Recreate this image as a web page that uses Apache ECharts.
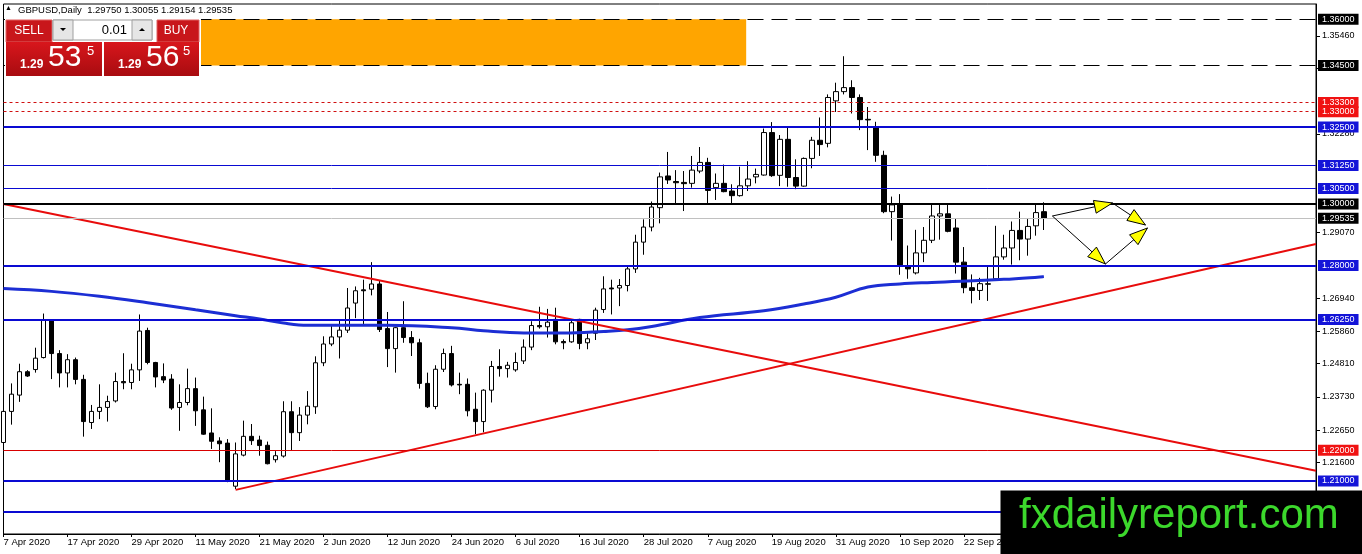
<!DOCTYPE html>
<html><head><meta charset="utf-8">
<script src="https://cdn.jsdelivr.net/npm/echarts/dist/echarts.min.js"></script>
<style>html,body{margin:0;padding:0;background:#fff}#c{width:1362px;height:554px}</style>
</head><body><div id="c"></div>
<script>
// ---------- data ----------
const symbolTitle = 'GBPUSD,Daily';
const headerOHLC = ['1.29750', '1.30055', '1.29154', '1.29535'];
const bidParts = ['1.29', '53', '5'];
const askParts = ['1.29', '56', '5'];
const lotSize = '0.01';

const dateTicks = ['7 Apr 2020','17 Apr 2020','29 Apr 2020','11 May 2020','21 May 2020','2 Jun 2020','12 Jun 2020','24 Jun 2020','6 Jul 2020','16 Jul 2020','28 Jul 2020','7 Aug 2020','19 Aug 2020','31 Aug 2020','10 Sep 2020','22 Sep 2020','2 Oct 2020','14 Oct 2020','26 Oct 2020','5 Nov 2020','17 Nov 2020'];

const yTicks = [1.35460, 1.34410, 1.32280, 1.29070, 1.26940, 1.25860, 1.24810, 1.23730, 1.22650, 1.21600];

const opens = [1.2225,1.2326,1.2379,1.2455,1.2462,1.2501,1.2620,1.2514,1.2451,1.2494,
1.2430,1.2290,1.2326,1.2339,1.2360,1.2423,1.2420,1.2461,1.2589,1.2485,
1.2439,1.2431,1.2339,1.2355,1.2400,1.2331,1.2256,1.2230,1.2223,1.2083,
1.2184,1.2245,1.2233,1.2216,1.2169,1.2181,1.2325,1.2257,1.2314,1.2341,
1.2484,1.2545,1.2568,1.2590,1.2678,1.2721,1.2723,1.2740,1.2595,1.2530,
1.2598,1.2566,1.2549,1.2417,1.2342,1.2463,1.2514,1.2414,1.2414,1.2333,
1.2293,1.2395,1.2472,1.2465,1.2461,1.2490,1.2535,1.2605,1.2601,1.2625,
1.2553,1.2552,1.2625,1.2549,1.2580,1.2657,1.2727,1.2727,1.2735,1.2789,
1.2876,1.2925,1.2988,1.3091,1.3073,1.3070,1.3067,1.3107,1.3135,1.3053,
1.3067,1.3042,1.3027,1.3059,1.3088,1.3094,1.3232,1.3093,1.3210,1.3086,
1.3058,1.3148,1.3207,1.3197,1.3335,1.3365,1.3378,1.3346,1.3275,1.3248,
1.3158,1.2975,1.3000,1.2798,1.2776,1.2841,1.2882,1.2961,1.2968,1.2922,
1.2811,1.2728,1.2719,1.2739,1.2757,1.2828,1.2857,1.2914,1.2886,1.2929,
1.29750];
const highs = [1.2382,1.2417,1.2481,1.2460,1.2533,1.2644,1.2625,1.2525,1.2512,1.2501,
1.2445,1.2347,1.2414,1.2377,1.2452,1.2515,1.2481,1.2641,1.2598,1.2487,
1.2482,1.2447,1.2414,1.2465,1.2436,1.2374,1.2336,1.2242,1.2236,1.2225,
1.2296,1.2285,1.2247,1.2228,1.2197,1.2359,1.2359,1.2340,1.2392,1.2505,
1.2570,1.2608,1.2621,1.2727,1.2732,1.2754,1.2811,1.2750,1.2649,1.2600,
1.2684,1.2587,1.2562,1.2452,1.2476,1.2530,1.2539,1.2452,1.2433,1.2387,
1.2398,1.2490,1.2528,1.2487,1.2517,1.2560,1.2619,1.2666,1.2659,1.2663,
1.2560,1.2625,1.2627,1.2580,1.2663,1.2765,1.2754,1.2756,1.2799,1.2900,
1.2950,1.3008,1.3102,1.3169,1.3110,1.3107,1.3156,1.3185,1.3150,1.3099,
1.3128,1.3064,1.3121,1.3139,1.3115,1.3245,1.3266,1.3224,1.3248,1.3145,
1.3151,1.3218,1.3281,1.3356,1.3394,1.3480,1.3402,1.3356,1.3315,1.3267,
1.3173,1.3024,1.3032,1.2865,1.2916,1.2925,1.3000,1.3000,1.3000,1.2954,
1.2860,1.2771,1.2760,1.2798,1.2929,1.2900,1.2943,1.2975,1.2951,1.2997,
1.30055];
const lows = [1.2166,1.2283,1.2357,1.2438,1.2452,1.2498,1.2431,1.2404,1.2404,1.2414,
1.2244,1.2269,1.2301,1.2293,1.2355,1.2398,1.2398,1.2425,1.2479,1.2404,
1.2418,1.2331,1.2263,1.2346,1.2279,1.2250,1.2204,1.2161,1.2096,1.2074,
1.2180,1.2217,1.2182,1.2154,1.2160,1.2176,1.2200,1.2230,1.2284,1.2318,
1.2473,1.2538,1.2498,1.2581,1.2629,1.2608,1.2703,1.2584,1.2470,1.2452,
1.2549,1.2506,1.2400,1.2337,1.2333,1.2454,1.2407,1.2382,1.2310,1.2252,
1.2258,1.2355,1.2439,1.2436,1.2455,1.2480,1.2525,1.2595,1.2566,1.2544,
1.2528,1.2549,1.2528,1.2528,1.2558,1.2646,1.2641,1.2668,1.2716,1.2776,
1.2835,1.2911,1.2937,1.3065,1.3002,1.2977,1.3053,1.3100,1.3002,1.3013,
1.3038,1.3002,1.3024,1.3042,1.3067,1.3092,1.3088,1.3058,1.3056,1.3048,
1.3056,1.3116,1.3156,1.3184,1.3299,1.3356,1.3294,1.3240,1.3175,1.3137,
1.2970,1.2881,1.2770,1.2757,1.2771,1.2811,1.2873,1.2884,1.2908,1.2774,
1.2710,1.2677,1.2688,1.2685,1.2753,1.2819,1.2803,1.2817,1.2832,1.2897,
1.29154];
const closes = [1.2326,1.2382,1.2455,1.2441,1.2499,1.2623,1.2514,1.2451,1.2494,1.2430,
1.2293,1.2326,1.2339,1.2358,1.2423,1.2419,1.2461,1.2587,1.2485,1.2438,
1.2428,1.2337,1.2355,1.2400,1.2328,1.2252,1.2229,1.2221,1.2101,1.2188,
1.2245,1.2231,1.2215,1.2156,1.2182,1.2325,1.2257,1.2314,1.2343,1.2484,
1.2545,1.2568,1.2590,1.2662,1.2718,1.2718,1.2740,1.2592,1.2530,1.2598,
1.2566,1.2549,1.2417,1.2341,1.2463,1.2514,1.2412,1.2412,1.2328,1.2293,
1.2395,1.2472,1.2465,1.2476,1.2485,1.2535,1.2605,1.2601,1.2616,1.2552,
1.2549,1.2614,1.2547,1.2562,1.2655,1.2724,1.2724,1.2735,1.2789,1.2876,
1.2925,1.2990,1.3088,1.3078,1.3069,1.3066,1.3110,1.3135,1.3044,1.3067,
1.3040,1.3027,1.3059,1.3081,1.3096,1.3232,1.3092,1.3210,1.3086,1.3058,
1.3148,1.3207,1.3193,1.3346,1.3365,1.3378,1.3346,1.3274,1.3273,1.3158,
1.2975,1.2997,1.2802,1.2789,1.2841,1.2882,1.2961,1.2968,1.2911,1.2811,
1.2728,1.2719,1.2741,1.2741,1.2828,1.2857,1.2914,1.2886,1.2927,1.2972,
1.29535];

// moving average read at selected bars
const maBars = [0, 6, 12, 18, 24, 29, 32, 35, 38, 48, 56, 60, 65, 70, 75, 78, 81, 87, 95, 100, 104, 108, 112, 116, 125, 130];
const maValues = [1.2725,1.2716,1.2700,1.2679,1.2656,1.2637,1.2626,1.2613,1.2606,1.2606,1.2598,1.2588,1.2581,1.2581,1.2586,1.2591,1.2602,1.2631,1.2653,1.2675,1.2697,1.2730,1.2740,1.2745,1.2755,1.2764];

// trend lines: [bar, price] endpoints
const trendDown = [[0, 1.3000], [164, 1.2133]];
const trendUp = [[29, 1.2071], [164, 1.2870]];

// horizontal levels
const levelPrices = [1.36000, 1.34500, 1.33300, 1.33000, 1.32500, 1.31250, 1.30500, 1.30000, 1.29535, 1.28000, 1.26250, 1.22000, 1.21000, 1.20000];
const levelKinds  = ['dash','dash','dot','dot','blue2','blue1','blue1','black','bid','blue2','blue2','red1','blue2','blue2'];

// orange zone: [fromBar, toBar, lowPrice, highPrice]
const orangeZone = [12, 92.8, 1.345, 1.360];

// arrow annotations: [bar1, price1, bar2, price2]
const arrowSegs = [
  [131.06, 1.29609, 138.56, 1.30032],
  [138.56, 1.30032, 142.69, 1.29317],
  [131.06, 1.29609, 137.69, 1.28050],
  [137.69, 1.28050, 142.94, 1.29219]
];

// ---------- styles ----------
const BLUE = '#0a0ad2', RED = '#e80c0c';
const kindStyle = {
  dash:  {line: {color: '#000', width: 1, type: [16, 8]}, box: '#000'},
  dot:   {line: {color: '#d01010', width: 1, type: [3, 3]}, box: '#f01212'},
  blue2: {line: {color: BLUE, width: 2, type: 'solid'}, box: '#1414d8'},
  blue1: {line: {color: BLUE, width: 1, type: 'solid'}, box: '#1414d8'},
  black: {line: {color: '#000', width: 2, type: 'solid'}, box: '#000'},
  bid:   {line: {color: '#c0c0c0', width: 1, type: 'solid'}, box: '#000'},
  red1:  {line: {color: '#d80000', width: 1, type: 'solid'}, box: '#f01212'}
};
const FONT = '"Liberation Sans", Arial, sans-serif';

const candleData = opens.map((o, i) => [i, o, closes[i], lows[i], highs[i]]);

const chart = echarts.init(document.getElementById('c'), null, {renderer: 'canvas'});

const levelMarks = levelPrices.map((p, i) => {
  const s = kindStyle[levelKinds[i]];
  return {
    yAxis: p,
    lineStyle: {color: s.line.color, width: s.line.width, type: s.line.type},
    label: {
      show: true, position: 'end', distance: 2,
      formatter: p.toFixed(5),
      color: '#fff', backgroundColor: s.box,
      fontFamily: FONT, fontSize: 9, lineHeight: 10,
      padding: [1, 4, 0, 4]
    }
  };
});

const panelRed = new echarts.graphic.LinearGradient(0, 0, 0, 1, [
  {offset: 0, color: '#d8161c'}, {offset: 1, color: '#a80c10'}
]);

const option = {
  animation: false,
  backgroundColor: '#fff',
  grid: {left: 3.5, right: 46, top: 4, bottom: 20, show: true, borderColor: '#000', borderWidth: 1, backgroundColor: '#fff'},
  xAxis: {
    type: 'value', min: 0, max: 164, interval: 8,
    axisLine: {show: true, onZero: false, lineStyle: {color: '#000'}},
    axisTick: {show: true, length: 3, lineStyle: {color: '#000'}},
    splitLine: {show: false},
    axisLabel: {
      color: '#000', fontFamily: FONT, fontSize: 9.5, margin: 3, align: 'left',
      showMaxLabel: false,
      formatter: v => (v % 8 === 0 && dateTicks[v / 8]) ? dateTicks[v / 8] : ''
    }
  },
  yAxis: {
    type: 'value', position: 'right', min: 1.19277, max: 1.36497,
    axisLine: {show: true, onZero: false, lineStyle: {color: '#000'}},
    axisTick: {show: true, length: 4, customValues: yTicks, lineStyle: {color: '#000'}},
    splitLine: {show: false},
    axisLabel: {customValues: yTicks, color: '#000', fontFamily: FONT, fontSize: 9, margin: 6, formatter: v => v.toFixed(5)}
  },
  series: [
    {
      type: 'candlestick',
      data: candleData,
      barWidth: 5,
      z: 3,
      itemStyle: {color: '#fff', color0: '#000', borderColor: '#000', borderColor0: '#000', borderWidth: 1},
      markArea: {
        silent: true,
        itemStyle: {color: '#FFA500', opacity: 1},
        data: [[{xAxis: orangeZone[0], yAxis: orangeZone[3]}, {xAxis: orangeZone[1], yAxis: orangeZone[2]}]]
      },
      markLine: {
        silent: true, symbol: ['none', 'none'], z: 5, precision: 5,
        data: levelMarks
      }
    },
    {
      type: 'line', data: maBars.map((b, i) => [b, maValues[i]]), smooth: 0.4,
      showSymbol: false, symbol: 'none', z: 4,
      lineStyle: {color: '#1c2ed4', width: 3}
    },
    {
      type: 'line', data: trendDown, showSymbol: false, symbol: 'none', z: 4,
      lineStyle: {color: RED, width: 2}
    },
    {
      type: 'line', data: trendUp, showSymbol: false, symbol: 'none', z: 4,
      lineStyle: {color: RED, width: 2}
    },
    {
      type: 'custom', z: 6, data: arrowSegs,
      renderItem: function (params, api) {
        const a = api.coord([api.value(0), api.value(1)]);
        const b = api.coord([api.value(2), api.value(3)]);
        const dx = b[0] - a[0], dy = b[1] - a[1];
        const len = Math.hypot(dx, dy), ux = dx / len, uy = dy / len;
        const L = 18, W = 6.5;
        const bx = b[0] - ux * L, by = b[1] - uy * L;
        return {type: 'group', children: [
          {type: 'line', shape: {x1: a[0], y1: a[1], x2: b[0], y2: b[1]}, style: {stroke: '#000', lineWidth: 1}},
          {type: 'polygon', shape: {points: [[b[0], b[1]], [bx - uy * W, by + ux * W], [bx + uy * W, by - ux * W]]},
           style: {fill: '#ffff00', stroke: '#000', lineWidth: 1}}
        ]};
      }
    }
  ],
  graphic: [
    // header
    {type: 'text', left: 5, top: 5, z: 100, style: {text: '▲', fontSize: 7, fill: '#000', fontFamily: FONT}},
    {type: 'text', left: 18, top: 5, z: 100, style: {text: symbolTitle + '  ' + headerOHLC.join(' '), fontSize: 9.5, fill: '#000', fontFamily: FONT}},
    // trade panel backing
    {type: 'rect', z: 100, shape: {x: 5, y: 19, width: 196, height: 58}, style: {fill: '#fff'}},
    {type: 'rect', z: 101, shape: {x: 6, y: 20, width: 46, height: 22}, style: {fill: '#c8161b', stroke: '#e06060', lineWidth: 1}},
    {type: 'text', z: 102, x: 29, y: 31, style: {text: 'SELL', fill: '#fff', fontSize: 12, fontFamily: FONT, align: 'center', verticalAlign: 'middle'}},
    {type: 'rect', z: 101, shape: {x: 53, y: 20, width: 99, height: 20}, style: {fill: '#fff', stroke: '#a0a0a0', lineWidth: 1}},
    {type: 'rect', z: 102, shape: {x: 53, y: 20, width: 20, height: 20}, style: {fill: '#e6e6e6', stroke: '#a0a0a0', lineWidth: 1}},
    {type: 'rect', z: 102, shape: {x: 132, y: 20, width: 20, height: 20}, style: {fill: '#e6e6e6', stroke: '#a0a0a0', lineWidth: 1}},
    {type: 'polygon', z: 103, shape: {points: [[60, 28], [66, 28], [63, 31]]}, style: {fill: '#000'}},
    {type: 'polygon', z: 103, shape: {points: [[139, 31], [145, 31], [142, 28]]}, style: {fill: '#000'}},
    {type: 'text', z: 103, x: 127, y: 30, style: {text: lotSize, fill: '#000', fontSize: 13, fontFamily: FONT, align: 'right', verticalAlign: 'middle'}},
    {type: 'rect', z: 101, shape: {x: 157, y: 20, width: 42, height: 22}, style: {fill: '#c8161b', stroke: '#e06060', lineWidth: 1}},
    {type: 'text', z: 102, x: 176, y: 31, style: {text: 'BUY', fill: '#fff', fontSize: 12, fontFamily: FONT, align: 'center', verticalAlign: 'middle'}},
    {type: 'rect', z: 101, shape: {x: 6, y: 42, width: 96, height: 34}, style: {fill: panelRed}},
    {type: 'rect', z: 101, shape: {x: 104, y: 42, width: 95, height: 34}, style: {fill: panelRed}},
    {type: 'text', z: 102, x: 20, y: 64.5, style: {text: bidParts[0], fill: '#fff', fontSize: 12, fontWeight: 'bold', fontFamily: FONT, verticalAlign: 'middle'}},
    {type: 'text', z: 102, x: 48, y: 57.5, style: {text: bidParts[1], fill: '#fff', fontSize: 30, fontFamily: FONT, verticalAlign: 'middle'}},
    {type: 'text', z: 102, x: 87, y: 51, style: {text: bidParts[2], fill: '#fff', fontSize: 13, fontFamily: FONT, verticalAlign: 'middle'}},
    {type: 'text', z: 102, x: 118, y: 64.5, style: {text: askParts[0], fill: '#fff', fontSize: 12, fontWeight: 'bold', fontFamily: FONT, verticalAlign: 'middle'}},
    {type: 'text', z: 102, x: 146, y: 57.5, style: {text: askParts[1], fill: '#fff', fontSize: 30, fontFamily: FONT, verticalAlign: 'middle'}},
    {type: 'text', z: 102, x: 183, y: 51, style: {text: askParts[2], fill: '#fff', fontSize: 13, fontFamily: FONT, verticalAlign: 'middle'}},
    // watermark
    {type: 'rect', z: 100, shape: {x: 1000.5, y: 490.5, width: 362, height: 64}, style: {fill: '#000'}},
    {type: 'text', z: 101, x: 1019, y: 516, style: {text: 'fxdailyreport.com', fill: '#3cd82c', fontSize: 42, fontFamily: FONT, verticalAlign: 'middle'}}
  ]
};
chart.setOption(option);
</script>
</body></html>
